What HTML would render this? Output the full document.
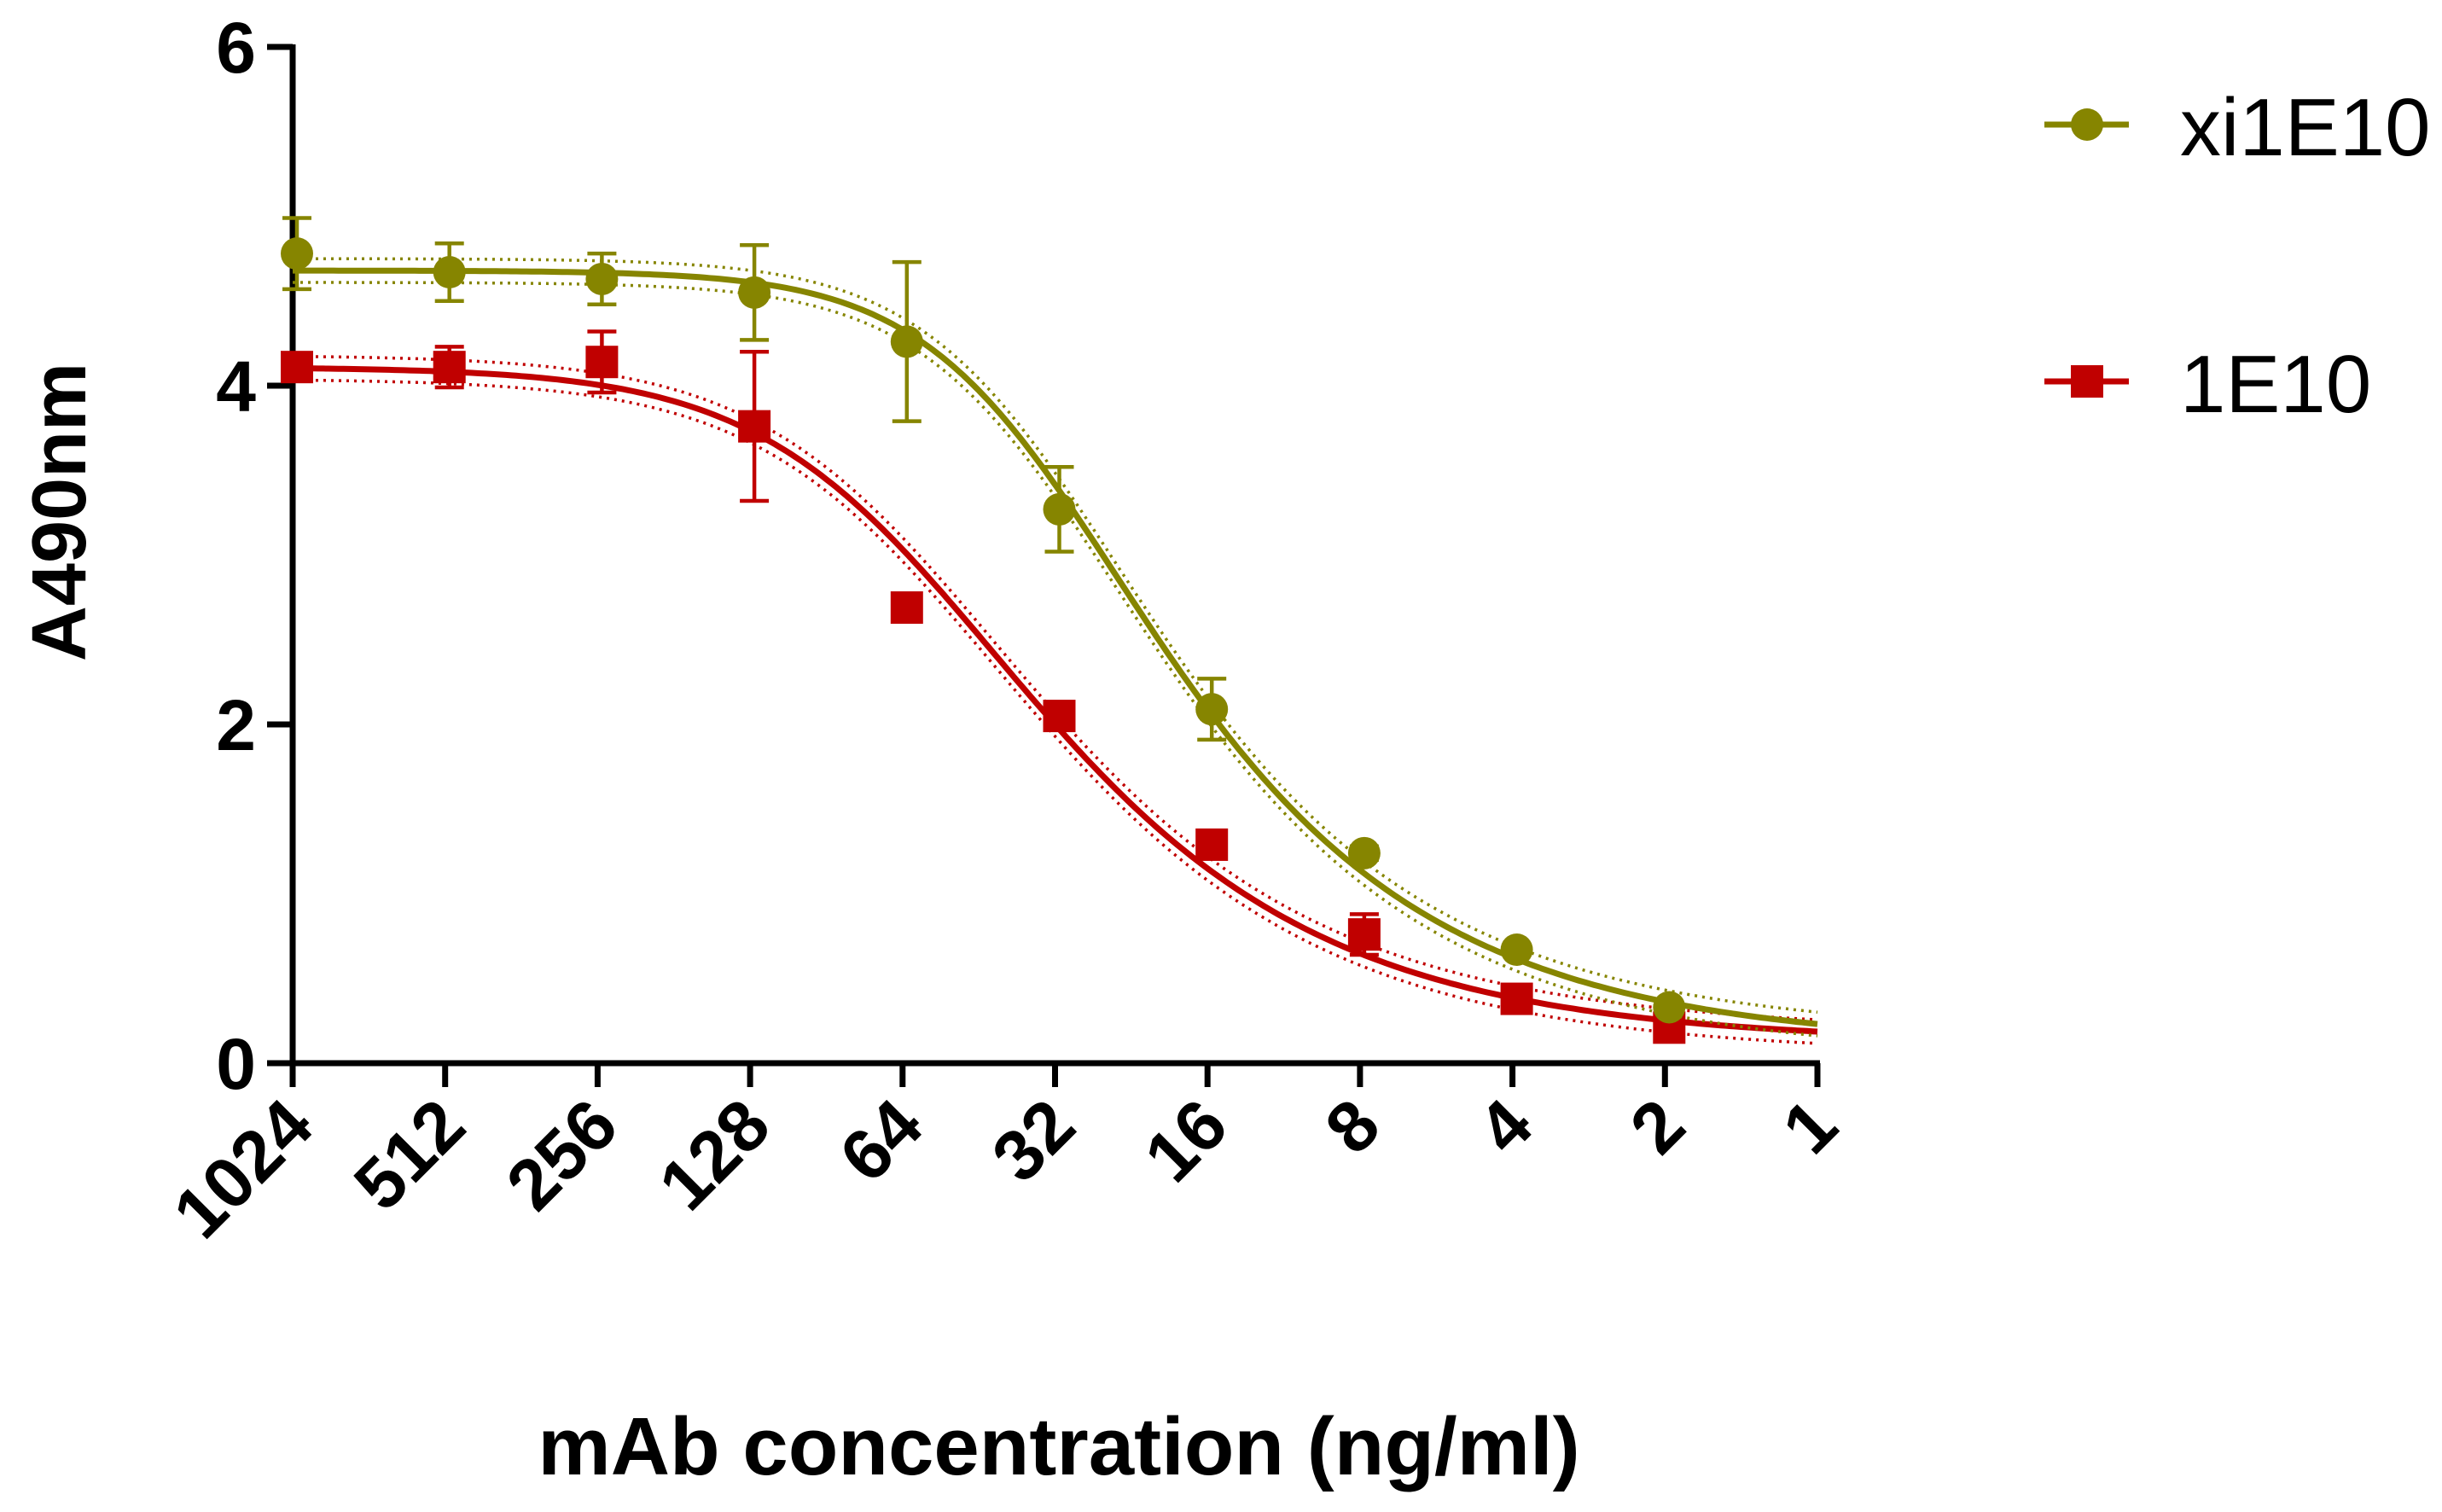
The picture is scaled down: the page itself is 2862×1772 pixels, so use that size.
<!DOCTYPE html>
<html><head><meta charset="utf-8"><style>
html,body{margin:0;padding:0;background:#fff}
svg{display:block}
text{font-family:"Liberation Sans",Arial,sans-serif}
</style></head><body>
<svg id="chart" width="2862" height="1772" viewBox="0 0 2862 1772" xmlns="http://www.w3.org/2000/svg">
<g id="plot"></g>
</svg>
<script>
const concentrations = [1024, 512, 256, 128, 64, 32, 16, 8, 4, 2, 1];
const xiValues = [4.78, 4.67, 4.63, 4.55, 4.26, 3.27, 2.09, 1.24, 0.67, 0.33];
const xiErrors = [0.21, 0.17, 0.15, 0.28, 0.47, 0.25, 0.18, 0.04, 0.03, 0.03];
const e10Values = [4.11, 4.11, 4.14, 3.76, 2.69, 2.05, 1.29, 0.76, 0.38, 0.21];
const e10Errors = [0.05, 0.12, 0.18, 0.44, 0.04, 0.04, 0.04, 0.12, 0.05, 0.05];
// top, bottom, EC50, hill, asymmetry
const xiFit = [4.68, 0.10, 34.9, 2.5, 0.4];
const e10Fit = [4.11, 0.12, 59.9, 2.0, 0.5];
const yTicks = [0, 2, 4, 6];

const NS = "http://www.w3.org/2000/svg";
const plot = document.getElementById('plot');
const X0 = 343, X1 = 2130, Y0 = 1246, Y6 = 55;
const lmax = Math.log2(1024);
function xs(c){ return X0 + (lmax - Math.log2(c)) / lmax * (X1 - X0); }
function ys(v){ return Y0 - v / 6 * (Y0 - Y6); }
function mk(tag, attrs, parent){
  const e = document.createElementNS(NS, tag);
  for (const k in attrs) e.setAttribute(k, attrs[k]);
  (parent || plot).appendChild(e);
  return e;
}
function fivePL(p, c){ return p[1] + (p[0] - p[1]) / Math.pow(1 + Math.pow(p[2] / c, p[3]), p[4]); }
function curvePath(p, off){
  let d = '';
  for (let i = 0; i <= 300; i++) {
    const l = lmax * (1 - i / 300);
    const c = Math.pow(2, l);
    const v = fivePL(p, c) + off;
    d += (i ? 'L' : 'M') + xs(c).toFixed(1) + ' ' + ys(v).toFixed(1);
  }
  return d;
}

let ax = mk('line', {x1: X0, y1: Y6 - 3, x2: X0, y2: Y0 + 3, stroke: '#000', 'stroke-width': 7});


ax = mk('line', {x1: X0 - 30, y1: Y0, x2: X1 + 3, y2: Y0, stroke: '#000', 'stroke-width': 7});



yTicks.forEach(t => {
  const ln = mk('line', {x1: X0 - 30, y1: ys(t), x2: X0, y2: ys(t), stroke: '#000', 'stroke-width': 7});
  
  
  const tx = mk('text', {x: 300, y: ys(t) + 30, 'text-anchor': 'end', 'font-size': 84, 'font-weight': 'bold'});
  tx.textContent = t;
  
  
});
concentrations.forEach(c => {
  const x = xs(c);
  const ln = mk('line', {x1: x, y1: Y0, x2: x, y2: Y0 + 28, stroke: '#000', 'stroke-width': 7});
  
  
  const ax2 = x + 28, ay2 = Y0 + 78;
  const tx = mk('text', {x: ax2, y: ay2, 'text-anchor': 'end', 'font-size': 84, 'font-weight': 'bold', transform: `rotate(-45 ${ax2} ${ay2})`});
  tx.textContent = c;
  
  
});

function series(vals, errs, fit, color, shape, name){
  const g = mk('g', {});
  
  
  [-0.07, 0.07].forEach(o => {
    const b = mk('path', {d: curvePath(fit, o), fill: 'none', stroke: color, 'stroke-width': 3.5, 'stroke-dasharray': '3 6'}, g);
    
    
  });
  const cp = mk('path', {d: curvePath(fit, 0), fill: 'none', stroke: color, 'stroke-width': 7}, g);
  
  
  vals.forEach((v, i) => {
    const x = xs(concentrations[i]) + 5;
    const e = errs[i];
    const eb = mk('path', {d: `M${x} ${ys(v + e)}L${x} ${ys(v - e)}M${x - 17} ${ys(v + e)}L${x + 17} ${ys(v + e)}M${x - 17} ${ys(v - e)}L${x + 17} ${ys(v - e)}`, stroke: color, 'stroke-width': 4.5, fill: 'none'}, g);
    
    
    let m;
    if (shape === 'circle') m = mk('circle', {cx: x, cy: ys(v), r: 19, fill: color}, g);
    else m = mk('rect', {x: x - 19, y: ys(v) - 19, width: 38, height: 38, fill: color}, g);
    
    
  });
}
series(e10Values, e10Errors, e10Fit, '#c00000', 'square', '1e10');
series(xiValues, xiErrors, xiFit, '#868500', 'circle', 'xi1e10');

function legend(y, color, shape, label, name){
  const g = mk('g', {});
  
  
  mk('line', {x1: 2396, y1: y, x2: 2495, y2: y, stroke: color, 'stroke-width': 7}, g);
  if (shape === 'circle') mk('circle', {cx: 2446, cy: y, r: 19, fill: color}, g);
  else mk('rect', {x: 2427, y: y - 19, width: 38, height: 38, fill: color}, g);
  const t = mk('text', {x: 2555, y: y + 36, 'font-size': 96}, g);
  t.textContent = label;
}
legend(146, '#868500', 'circle', 'xi1E10', 'xi1e10');
legend(447, '#c00000', 'square', '1E10', '1e10');

let t = mk('text', {x: 1241, y: 1728, 'text-anchor': 'middle', 'font-size': 96, 'font-weight': 'bold'});
t.textContent = 'mAb concentration (ng/ml)';


t = mk('text', {x: 100, y: 600, 'text-anchor': 'middle', 'font-size': 90, 'font-weight': 'bold', transform: 'rotate(-90 100 600)'});
t.textContent = 'A490nm';


</script>
</body></html>
